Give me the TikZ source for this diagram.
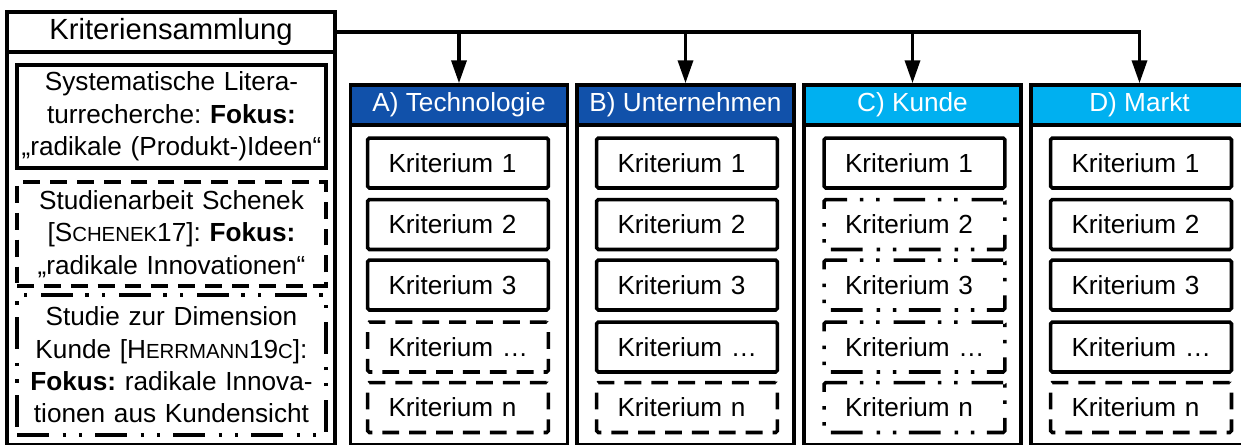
\documentclass[tikz,border=0pt]{standalone}
\usepackage{fontspec}
\setmainfont{Liberation Sans}
\usetikzlibrary{arrows.meta}
\definecolor{dunkelblau}{RGB}{17,81,170}
\definecolor{hellblau}{RGB}{0,176,240}
\frenchspacing
\newcommand{\grund}{\fontsize{14.9pt}{18.4pt}\selectfont}
\newcommand{\kap}[1]{{\fontsize{11.6pt}{18.4pt}\selectfont #1}}
\tikzset{
    rahmen/.style={draw, line width=2pt, inner sep=0pt, font=\grund},
    kopf/.style={rahmen, minimum width=4.34cm, minimum height=0.8cm, text=white},
    spalte/.style={rahmen, minimum width=4.34cm, minimum height=7.2cm},
    quelle/.style={rahmen, minimum width=6.18cm, text width=6.1cm, align=center},
    krit/.style={rahmen, rounded corners=1pt, minimum height=1cm, inner xsep=0.42cm, text width=2.78cm, align=left},
    gestrichelt/.style={dash pattern=on 9.6pt off 5.7pt},
    strichpunkt/.style={dash pattern=on 18pt off 8pt on 2pt off 7.2pt on 2pt off 7.2pt},
    pfeil/.style={line width=2pt, -{Triangle[length=0.46cm, width=0.3cm]}}
}
\begin{document}
\begin{tikzpicture}[x=0.02cm, y=-0.02cm]
    \useasboundingbox (0,0) rectangle (1241,444);
    % Kriteriensammlung
    \node (quellen) at (171,228.5) [rahmen, minimum width=6.56cm, minimum height=8.66cm] {};
    \node (samml) at (171,32) [rahmen, minimum width=6.56cm, minimum height=0.8cm, font=\fontsize{16.6pt}{20pt}\selectfont] {Kriteriensammlung};
    \node (lit) at (171.5,116.5) [quelle, minimum height=2.06cm]
      {Systematische Litera-\\turrecherche: \textbf{Fokus:}\\„radikale (Produkt-)Ideen“};
    \node (schenek) at (171.5,234) [quelle, gestrichelt, minimum height=2.08cm]
      {Studienarbeit Schenek\\{}[S\kap{CHENEK}17]: \textbf{Fokus:}\\„radikale Innovationen“};
    \node (herrmann) at (171.5,365) [quelle, strichpunkt, minimum height=2.8cm]
      {Studie zur Dimension\\Kunde [H\kap{ERRMANN}19\kap{C}]:\\\textbf{Fokus:} radikale Innova-\\tionen aus Kundensicht};
    % Dimensionen
    \node (spalteA) at (459,265) [spalte] {};
    \node (spalteB) at (685.5,265) [spalte] {};
    \node (spalteC) at (912.5,265) [spalte] {};
    \node (spalteD) at (1139.5,265) [spalte] {};
    \node (techn) at (459,105) [kopf, fill=dunkelblau] {A) Technologie};
    \node (untern) at (685.5,105) [kopf, fill=dunkelblau] {B) Unternehmen};
    \node (kunde) at (912.5,105) [kopf, fill=hellblau] {C) Kunde};
    \node (markt) at (1139.5,105) [kopf, fill=hellblau] {D) Markt};
    \draw[pfeil] (samml.east) -| (markt.north);
    \draw[pfeil] (techn.north |- samml.east) -- (techn.north);
    \draw[pfeil] (untern.north |- samml.east) -- (untern.north);
    \draw[pfeil] (kunde.north |- samml.east) -- (kunde.north);
    % Kriterien
    \node (a1) at (458,163) [krit] {Kriterium 1};
    \node (a2) at (458,224.5) [krit] {Kriterium 2};
    \node (a3) at (458,285) [krit] {Kriterium 3};
    \node (a4) at (458,347) [krit, gestrichelt] {Kriterium~…};
    \node (an) at (458,407.5) [krit, gestrichelt] {Kriterium n};
    \node (b1) at (687,163) [krit] {Kriterium 1};
    \node (b2) at (687,224.5) [krit] {Kriterium 2};
    \node (b3) at (687,285) [krit] {Kriterium 3};
    \node (b4) at (687,347) [krit] {Kriterium~…};
    \node (bn) at (687,407.5) [krit, gestrichelt] {Kriterium n};
    \node (c1) at (914.5,163) [krit] {Kriterium 1};
    \node (c2) at (914.5,224.5) [krit, strichpunkt] {Kriterium 2};
    \node (c3) at (914.5,285) [krit, strichpunkt] {Kriterium 3};
    \node (c4) at (914.5,347) [krit, strichpunkt] {Kriterium~…};
    \node (cn) at (914.5,407.5) [krit, strichpunkt] {Kriterium n};
    \node (d1) at (1141,163) [krit] {Kriterium 1};
    \node (d2) at (1141,224.5) [krit] {Kriterium 2};
    \node (d3) at (1141,285) [krit] {Kriterium 3};
    \node (d4) at (1141,347) [krit] {Kriterium~…};
    \node (dn) at (1141,407.5) [krit, gestrichelt] {Kriterium n};
\end{tikzpicture}
\end{document}
